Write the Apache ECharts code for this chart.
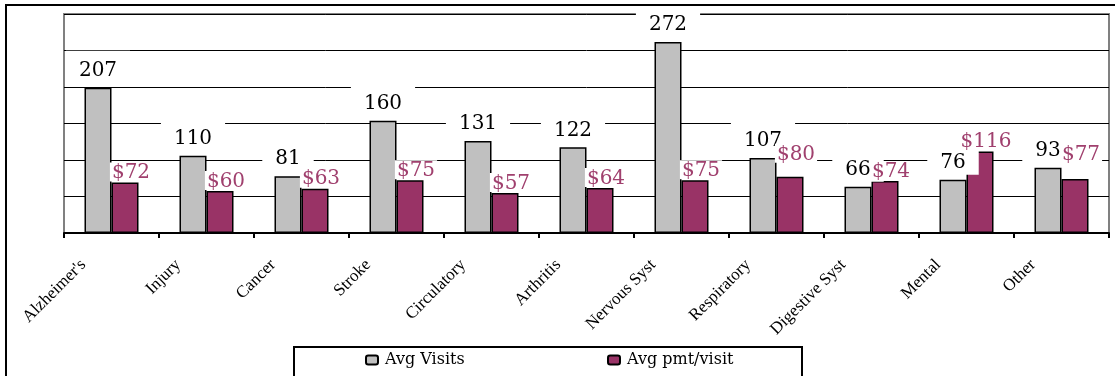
<!DOCTYPE html>
<html>
<head>
<meta charset="utf-8">
<style>
  html, body { margin: 0; padding: 0; background: #fff; }
  #chart { width: 1115px; height: 376px; }
</style>
<script src="https://cdn.jsdelivr.net/npm/echarts@6/dist/echarts.min.js"></script>
</head>
<body>
<div id="chart"></div>
<script>
// Diagnosis categories along the x axis
const categories = ["Alzheimer's", "Injury", "Cancer", "Stroke", "Circulatory", "Arthritis",
  "Nervous Syst", "Respiratory", "Digestive Syst", "Mental", "Other"];
// Average number of visits per patient
const avgVisits = [207, 110, 81, 160, 131, 122, 272, 107, 66, 76, 93];
// Average payment per visit, in dollars
const avgPmtPerVisit = [72, 60, 63, 75, 57, 64, 75, 80, 74, 116, 77];
// Legend entries
const seriesNames = ["Avg Visits", "Avg pmt/visit"];

const GRAY = '#C0C0C0';
const PLUM = '#993366';
const PLUM_TEXT = '#A0406E';

// A couple of payment labels sit a little higher above their bars
const raisedPmtLabels = { 'Respiratory': 13, 'Other': 15 };

const chart = echarts.init(document.getElementById('chart'), null, { renderer: 'canvas' });

const pmtData = avgPmtPerVisit.map((v, i) => {
  const lift = raisedPmtLabels[categories[i]] || 0;
  return lift ? { value: v, label: { offset: [6, -lift] } } : v;
});

const legendText = { fontFamily: 'DejaVu Serif', fontSize: 16, color: '#000', padding: [0, 0, 0, 2] };

chart.setOption({
  animation: false,
  backgroundColor: '#fff',
  grid: {
    left: 64, right: 6, top: 14, bottom: 143,
    show: true, borderColor: '#808080', borderWidth: 2, backgroundColor: 'transparent'
  },
  xAxis: {
    type: 'category',
    data: categories,
    axisLine: { lineStyle: { color: '#000', width: 2 } },
    axisTick: { show: true, length: 5, lineStyle: { color: '#000', width: 2 } },
    axisLabel: {
      interval: 0, rotate: 45, margin: 1,
      padding: [0, 40, 0, 0],
      fontFamily: 'Liberation Serif', fontSize: 17, color: '#000'
    },
    splitLine: { show: false }
  },
  yAxis: {
    type: 'value',
    min: 0, max: 312, interval: 52,
    axisLine: { show: false },
    axisTick: { show: false },
    axisLabel: { show: false },
    splitLine: { lineStyle: { color: '#000', width: 1 } }
  },
  legend: [
    {
      data: [seriesNames[0]], left: 365, top: 352, padding: 0,
      itemWidth: 12, itemHeight: 9, itemGap: 0, textStyle: legendText
    },
    {
      data: [seriesNames[1]], left: 607, top: 352, padding: 0,
      itemWidth: 12, itemHeight: 9, itemGap: 0, textStyle: legendText
    }
  ],
  graphic: [
    {
      type: 'rect', z: 100, silent: true,
      shape: { x: 6, y: 5, width: 1130, height: 400 },
      style: { fill: 'none', stroke: '#000', lineWidth: 2 }
    },
    {
      type: 'rect', z: 100, silent: true,
      shape: { x: 294, y: 347, width: 508, height: 40 },
      style: { fill: 'none', stroke: '#000', lineWidth: 2 }
    }
  ],
  series: [
    {
      name: seriesNames[0],
      type: 'bar',
      data: avgVisits,
      barWidth: 27,
      barGap: '0%',
      itemStyle: { color: GRAY, borderColor: '#000', borderWidth: 1.5 },
      label: {
        show: true, position: 'top', distance: 5,
        fontFamily: 'DejaVu Serif', fontSize: 20, color: '#000',
        backgroundColor: '#fff', padding: [10, 13, 2, 13], lineHeight: 20
      }
    },
    {
      name: seriesNames[1],
      type: 'bar',
      data: pmtData,
      barWidth: 27,
      itemStyle: { color: PLUM, borderColor: '#000', borderWidth: 1.5 },
      label: {
        show: true, position: 'top', distance: 1, offset: [6, 0],
        fontFamily: 'DejaVu Serif', fontSize: 20, color: PLUM_TEXT,
        backgroundColor: '#fff', padding: [2, 2, 0, 2], lineHeight: 17,
        formatter: p => '$' + p.value
      }
    }
  ]
});
</script>
</body>
</html>
